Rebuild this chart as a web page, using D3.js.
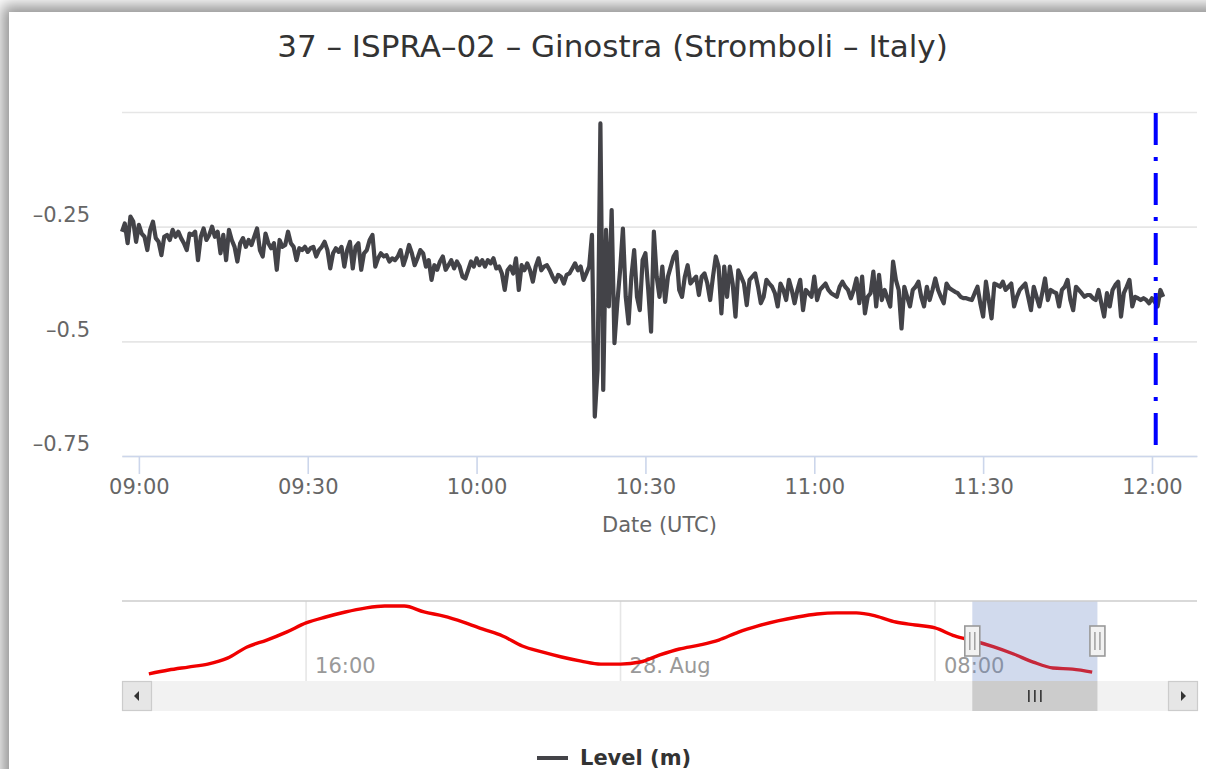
<!DOCTYPE html>
<html lang="en">
<head>
<meta charset="utf-8" />
<title>ISPRA-02 Ginostra</title>
<style>
  html, body { margin: 0; padding: 0; background: #fff; overflow: hidden; }
  #card {
    position: absolute; left: 9px; top: 12px; width: 1220px; height: 800px;
    background: #fff; box-shadow: 0 0 14px 7px rgba(0,0,0,0.42);
  }
  #chart { position: absolute; left: 0; top: 0; }
  text { font-family: "DejaVu Sans", Verdana, sans-serif; }
</style>
</head>
<body>
<div id="card"></div>
<div id="chart"></div>
<script src="https://d3js.org/d3.v7.min.js"></script>
<script>
// ---- data ----
const title = "37 \u2013 ISPRA\u201302 \u2013 Ginostra (Stromboli \u2013 Italy)";
const seriesName = "Level (m)";

// sea level, one sample every 30 s from 08:57 UTC, 28 Aug 2019
const levelStart = "2019-08-28T08:57:00Z";
const levelStepSec = 30;
const levelValues = [
  -0.261,-0.243,-0.286,-0.228,-0.239,-0.283,-0.246,-0.265,-0.272,-0.301,
  -0.257,-0.239,-0.275,-0.283,-0.312,-0.272,-0.268,-0.279,-0.257,-0.272,
  -0.261,-0.275,-0.286,-0.301,-0.265,-0.268,-0.261,-0.323,-0.272,-0.254,
  -0.279,-0.268,-0.250,-0.272,-0.261,-0.308,-0.268,-0.323,-0.257,-0.279,
  -0.294,-0.326,-0.286,-0.275,-0.294,-0.279,-0.290,-0.272,-0.254,-0.301,
  -0.315,-0.265,-0.286,-0.297,-0.286,-0.344,-0.279,-0.294,-0.290,-0.261,
  -0.286,-0.294,-0.323,-0.297,-0.301,-0.294,-0.305,-0.297,-0.294,-0.315,
  -0.301,-0.294,-0.283,-0.301,-0.341,-0.308,-0.297,-0.305,-0.294,-0.337,
  -0.301,-0.283,-0.341,-0.294,-0.286,-0.344,-0.308,-0.301,-0.279,-0.268,
  -0.337,-0.319,-0.308,-0.315,-0.312,-0.326,-0.319,-0.323,-0.315,-0.301,
  -0.334,-0.315,-0.290,-0.308,-0.334,-0.319,-0.301,-0.308,-0.337,-0.323,
  -0.366,-0.334,-0.344,-0.326,-0.315,-0.344,-0.334,-0.323,-0.341,-0.326,
  -0.337,-0.359,-0.363,-0.345,-0.326,-0.337,-0.319,-0.334,-0.323,-0.337,
  -0.323,-0.330,-0.319,-0.341,-0.337,-0.352,-0.388,-0.345,-0.337,-0.352,
  -0.319,-0.388,-0.334,-0.345,-0.330,-0.345,-0.370,-0.337,-0.319,-0.345,
  -0.337,-0.334,-0.345,-0.359,-0.370,-0.355,-0.359,-0.374,-0.355,-0.352,
  -0.341,-0.330,-0.345,-0.337,-0.366,-0.352,-0.337,-0.268,-0.664,-0.562,
  -0.025,-0.606,-0.257,-0.424,-0.214,-0.504,-0.417,-0.345,-0.254,-0.403,
  -0.461,-0.359,-0.301,-0.403,-0.432,-0.323,-0.308,-0.388,-0.479,-0.261,
  -0.359,-0.403,-0.337,-0.414,-0.359,-0.337,-0.315,-0.305,-0.388,-0.403,
  -0.359,-0.334,-0.374,-0.366,-0.359,-0.399,-0.359,-0.352,-0.374,-0.410,
  -0.359,-0.315,-0.337,-0.439,-0.337,-0.403,-0.337,-0.374,-0.446,-0.345,
  -0.359,-0.374,-0.421,-0.366,-0.359,-0.352,-0.381,-0.417,-0.403,-0.366,
  -0.374,-0.381,-0.395,-0.424,-0.374,-0.388,-0.410,-0.366,-0.388,-0.417,
  -0.388,-0.366,-0.432,-0.388,-0.395,-0.403,-0.359,-0.410,-0.388,-0.381,
  -0.374,-0.388,-0.395,-0.399,-0.403,-0.381,-0.370,-0.381,-0.388,-0.406,
  -0.388,-0.363,-0.417,-0.359,-0.439,-0.403,-0.395,-0.348,-0.424,-0.355,
  -0.410,-0.388,-0.406,-0.424,-0.326,-0.366,-0.388,-0.472,-0.381,-0.403,
  -0.424,-0.388,-0.381,-0.370,-0.403,-0.424,-0.381,-0.410,-0.388,-0.363,
  -0.388,-0.403,-0.417,-0.374,-0.384,-0.388,-0.392,-0.395,-0.403,-0.406,
  -0.406,-0.408,-0.410,-0.395,-0.381,-0.417,-0.446,-0.370,-0.410,-0.450,
  -0.374,-0.377,-0.381,-0.370,-0.388,-0.381,-0.374,-0.424,-0.403,-0.388,
  -0.381,-0.374,-0.403,-0.432,-0.381,-0.403,-0.424,-0.395,-0.363,-0.410,
  -0.388,-0.392,-0.395,-0.424,-0.388,-0.381,-0.366,-0.410,-0.432,-0.381,
  -0.388,-0.395,-0.403,-0.399,-0.399,-0.406,-0.410,-0.388,-0.417,-0.446,
  -0.395,-0.424,-0.388,-0.377,-0.370,-0.446,-0.395,-0.381,-0.366,-0.424,
  -0.403,-0.406,-0.410,-0.406,-0.410,-0.417,-0.406,-0.414,-0.424,-0.388,
  -0.403
];

// navigator overview, one value every 30 min from 12:00 UTC, 27 Aug 2019
const navStart = "2019-08-27T12:00:00Z";
const navStepMin = 30;
const navValues = [
  -0.429,-0.412,-0.399,-0.386,-0.360,-0.311,-0.281,-0.246,-0.206,-0.180,
  -0.158,-0.141,-0.132,-0.132,-0.158,-0.176,-0.202,-0.233,-0.263,-0.307,
  -0.333,-0.355,-0.373,-0.386,-0.386,-0.377,-0.346,-0.320,-0.303,-0.281,
  -0.246,-0.219,-0.197,-0.180,-0.167,-0.162,-0.162,-0.176,-0.202,-0.215,
  -0.228,-0.263,-0.285,-0.311,-0.342,-0.377,-0.403,-0.408,-0.421
];

// axes
const mainDomain = ["2019-08-28T08:57:00Z", "2019-08-28T12:08:00Z"];
const mainTicks = ["09:00", "09:30", "10:00", "10:30", "11:00", "11:30", "12:00"];
const yTicks = [-0.75, -0.5, -0.25, 0];
const markerTime = "2019-08-28T12:00:40Z";
const navDomain = ["2019-08-27T11:19:00Z", "2019-08-28T14:40:00Z"];
const navTicks = ["2019-08-27T16:00:00Z", "2019-08-28T00:00:00Z", "2019-08-28T08:00:00Z"];
const navTickLabels = ["16:00", "28. Aug", "08:00"];

// ---- layout ----
const W = 1206, H = 769;
const plot = { left: 122, right: 1197, top: 112, bottom: 456 };
const nav = { top: 601, bottom: 681, sbTop: 681, sbBottom: 711 };

const parse = d3.isoParse;
const levelData = levelValues.map((v, i) => ({
  t: new Date(parse(levelStart).getTime() + i * levelStepSec * 1000), v
}));
const navData = navValues.map((v, i) => ({
  t: new Date(parse(navStart).getTime() + i * navStepMin * 60000), v
}));

const svg = d3.select("#chart").append("svg")
  .attr("width", W).attr("height", H);

// title
svg.append("text")
  .attr("x", 612.5).attr("y", 57)
  .attr("text-anchor", "middle")
  .attr("font-size", 31).attr("fill", "#333")
  .text(title);

// ---- main chart ----
const x = d3.scaleUtc().domain(mainDomain.map(parse)).range([plot.left, plot.right]);
const y = d3.scaleLinear().domain([-0.75, 0]).range([plot.bottom, plot.top]);

const fmtY = v => d3.format("")(v).replace(/[-\u2212]/, "\u2013");

const yAxis = svg.append("g")
  .attr("transform", `translate(${plot.left},0)`)
  .call(d3.axisLeft(y).tickValues(yTicks)
    .tickSize(-(plot.right - plot.left)).tickPadding(32)
    .tickFormat(d => d === 0 ? "" : fmtY(d)));
yAxis.select(".domain").remove();
yAxis.selectAll(".tick line").attr("stroke", "#e6e6e6").attr("stroke-width", 1.6);
yAxis.selectAll(".tick text")
  .attr("font-size", 21).attr("fill", "#666")
  .attr("font-family", "DejaVu Sans").attr("dy", "-0.24em");

const tickDates = mainTicks.map(s => parse(`2019-08-28T${s}:00Z`));
const xAxis = svg.append("g")
  .attr("transform", `translate(0,${plot.bottom})`)
  .call(d3.axisBottom(x).tickValues(tickDates)
    .tickSize(18).tickSizeOuter(0).tickPadding(5)
    .tickFormat(d3.utcFormat("%H:%M")));
xAxis.select(".domain").attr("stroke", "#ccd6eb").attr("stroke-width", 1.6);
xAxis.selectAll(".tick line").attr("stroke", "#ccd6eb").attr("stroke-width", 1.6);
xAxis.selectAll(".tick text")
  .attr("font-size", 21).attr("fill", "#666").attr("font-family", "DejaVu Sans");

svg.append("text")
  .attr("x", (plot.left + plot.right) / 2).attr("y", 532)
  .attr("text-anchor", "middle")
  .attr("font-size", 21).attr("fill", "#666")
  .text("Date (UTC)");

// level line
svg.append("path")
  .datum(levelData)
  .attr("fill", "none")
  .attr("stroke", "#434348")
  .attr("stroke-width", 4.2)
  .attr("stroke-linejoin", "round")
  .attr("d", d3.line().x(d => x(d.t)).y(d => y(d.v)));

// blue dash-dot marker
const mx = x(parse(markerTime));
svg.append("line")
  .attr("x1", mx).attr("x2", mx)
  .attr("y1", plot.top + 1).attr("y2", plot.bottom)
  .attr("stroke", "#0000ff").attr("stroke-width", 4)
  .attr("stroke-dasharray", "32,12,4,12");

// ---- navigator ----
const nx = d3.scaleUtc().domain(navDomain.map(parse)).range([plot.left, plot.right]);
const ny = d3.scaleLinear().domain([-0.46, -0.11]).range([nav.bottom, nav.top]);

const navTickDates = navTicks.map(parse);
svg.append("g").selectAll("line")
  .data(navTickDates).join("line")
  .attr("x1", d => nx(d)).attr("x2", d => nx(d))
  .attr("y1", nav.top).attr("y2", nav.bottom)
  .attr("stroke", "#e6e6e6").attr("stroke-width", 1.6);

svg.append("g").selectAll("text")
  .data(navTickDates).join("text")
  .attr("x", d => nx(d) + 9).attr("y", 673)
  .attr("font-size", 21).attr("fill", "#999")
  .text((d, i) => navTickLabels[i]);

svg.append("path")
  .datum(navData)
  .attr("fill", "none")
  .attr("stroke", "#f00000")
  .attr("stroke-width", 3.4)
  .attr("stroke-linejoin", "round")
  .attr("d", d3.line().curve(d3.curveMonotoneX).x(d => nx(d.t)).y(d => ny(d.v)));

// selected range mask
const selA = nx(parse(mainDomain[0])), selB = nx(parse(mainDomain[1]));
svg.append("rect")
  .attr("x", selA).attr("y", nav.top)
  .attr("width", selB - selA).attr("height", nav.bottom - nav.top)
  .attr("fill", "rgba(102,133,194,0.3)");

// navigator outline (top)
svg.append("line")
  .attr("x1", plot.left).attr("x2", plot.right)
  .attr("y1", nav.top).attr("y2", nav.top)
  .attr("stroke", "#cccccc").attr("stroke-width", 1.6);

// handles
[selA, selB].forEach(hx => {
  const g = svg.append("g");
  g.append("rect")
    .attr("x", hx - 7.5).attr("y", 626).attr("width", 15).attr("height", 30)
    .attr("fill", "#f2f2f2").attr("stroke", "#999").attr("stroke-width", 1.6);
  [-2.5, 2.5].forEach(o => g.append("line")
    .attr("x1", hx + o).attr("x2", hx + o).attr("y1", 632).attr("y2", 650)
    .attr("stroke", "#999").attr("stroke-width", 1.4));
});

// scrollbar
const sb = svg.append("g");
sb.append("rect")
  .attr("x", plot.left).attr("y", nav.sbTop)
  .attr("width", plot.right - plot.left).attr("height", nav.sbBottom - nav.sbTop)
  .attr("fill", "#f2f2f2");
sb.append("rect")
  .attr("x", selA).attr("y", nav.sbTop)
  .attr("width", selB - selA).attr("height", nav.sbBottom - nav.sbTop)
  .attr("fill", "#cccccc");
[-6, 0, 6].forEach(o => sb.append("line")
  .attr("x1", (selA + selB) / 2 + o).attr("x2", (selA + selB) / 2 + o)
  .attr("y1", 690).attr("y2", 702)
  .attr("stroke", "#333").attr("stroke-width", 1.6));
[[plot.left, -1], [plot.right - 29, 1]].forEach(([bx, dir]) => {
  sb.append("rect")
    .attr("x", bx + 0.5).attr("y", nav.sbTop + 0.5).attr("width", 29).attr("height", 29)
    .attr("fill", "#e6e6e6").attr("stroke", "#cccccc").attr("stroke-width", 1.2);
  const cx = bx + 15, cy = nav.sbTop + 15;
  sb.append("path")
    .attr("d", dir < 0
      ? `M${cx - 3},${cy} L${cx + 2},${cy - 5} L${cx + 2},${cy + 5} Z`
      : `M${cx + 3},${cy} L${cx - 2},${cy - 5} L${cx - 2},${cy + 5} Z`)
    .attr("fill", "#333");
});

// legend
svg.append("line")
  .attr("x1", 537).attr("x2", 568).attr("y1", 758).attr("y2", 758)
  .attr("stroke", "#434348").attr("stroke-width", 4);
svg.append("text")
  .attr("x", 580).attr("y", 765)
  .attr("font-size", 21).attr("font-weight", "bold").attr("fill", "#333")
  .text(seriesName);
</script>
</body>
</html>
